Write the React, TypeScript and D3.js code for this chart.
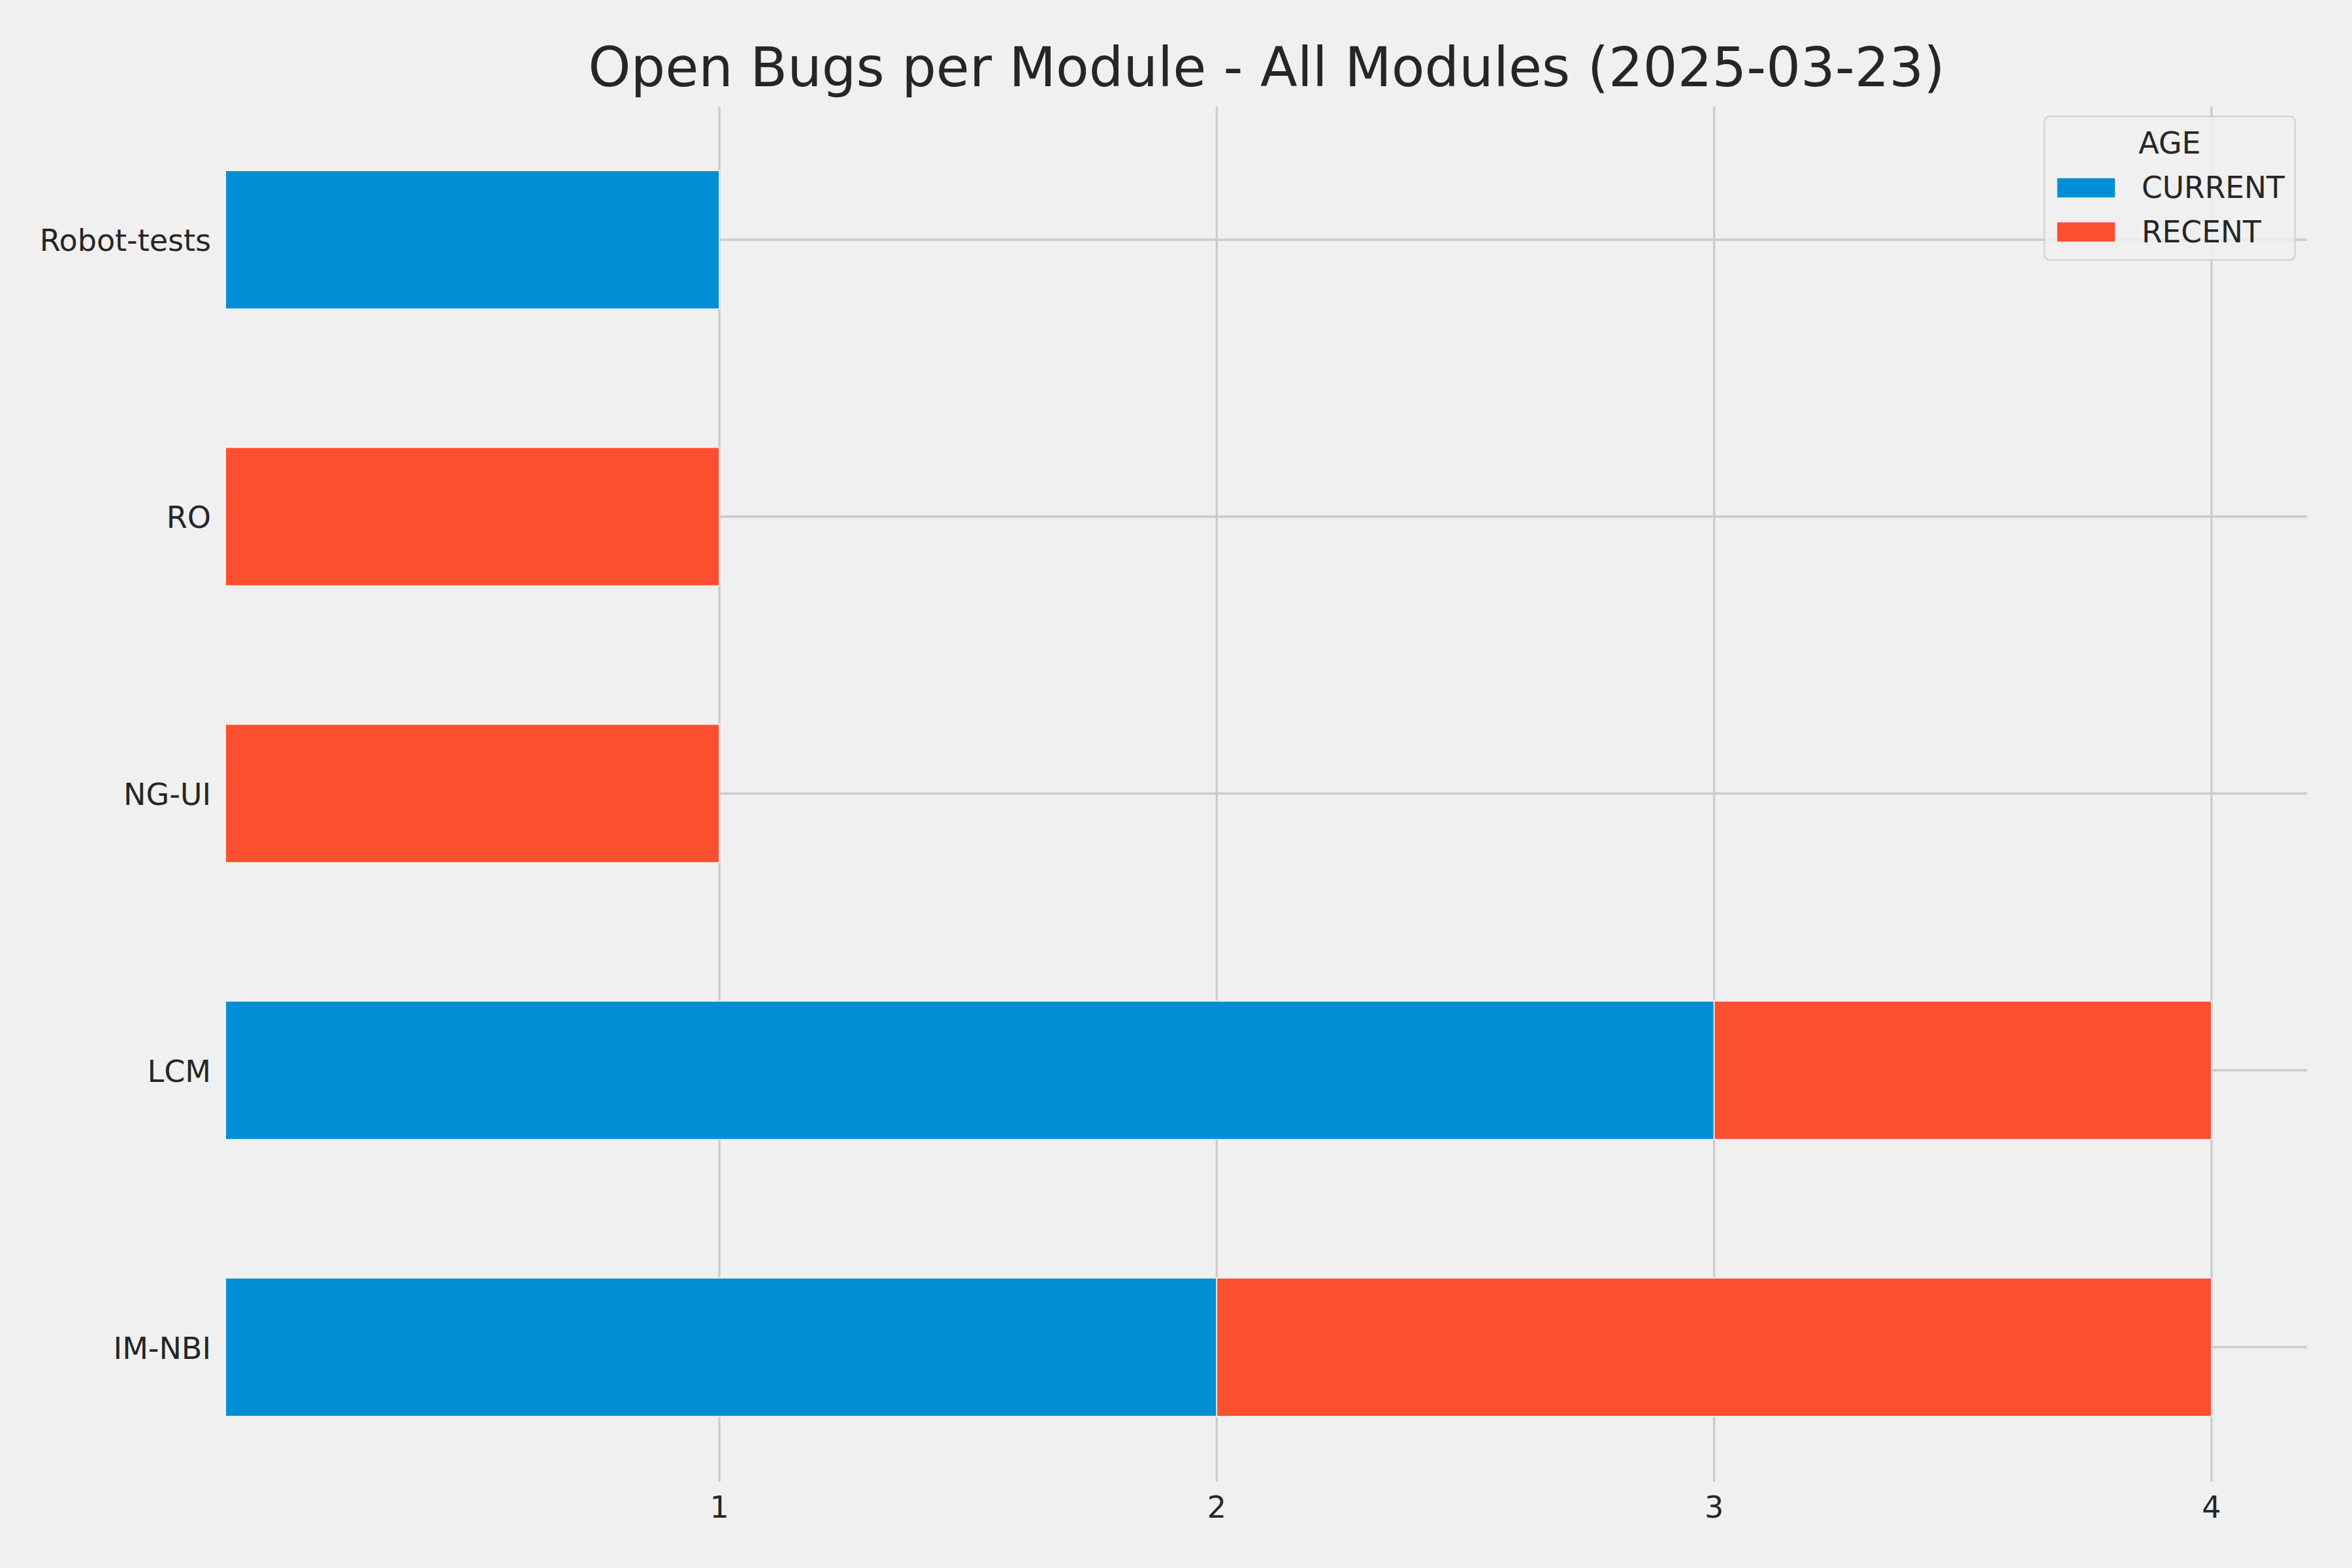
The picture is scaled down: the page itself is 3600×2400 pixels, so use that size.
import React from "react";
import * as d3 from "d3";

const categories = ["Robot-tests", "RO", "NG-UI", "LCM", "IM-NBI"];
const seriesNames = ["CURRENT", "RECENT"];
const currentValues = [1, 0, 0, 3, 2];
const recentValues = [0, 1, 1, 1, 2];
const xTicks = [1, 2, 3, 4];
const titleText = "Open Bugs per Module - All Modules (2025-03-23)";
const legendTitle = "AGE";

const W = 3600;
const H = 2400;
const colors = ["#008fd5", "#fc4f30"];
const FONT = "DejaVu Sans, Liberation Sans, sans-serif";
const TEXT = "#262626";
const GRID = "#cbcbcb";

const axLeft = 346;
const axRight = 3531;
const axTop = 163;
const axBottom = 2268;

export default function App() {
  const x = d3.scaleLinear().domain([0, 4]).range([339.7, 3385]);
  const y = d3
    .scaleBand<string>()
    .domain(categories)
    .range([155.1, 2273.9])
    .paddingInner(0.5)
    .paddingOuter(0.25);

  const rows = categories.map((c, i) => ({
    cat: c,
    CURRENT: currentValues[i],
    RECENT: recentValues[i],
  }));
  const stacked = d3.stack<any>().keys(seriesNames)(rows);

  const bw = y.bandwidth();

  return (
    <svg
      width={W}
      height={H}
      style={{ position: "absolute", left: 0, top: 0, display: "block" }}
      fontFamily={FONT}
    >
      <defs>
        <clipPath id="axclip">
          <rect x={axLeft} y={axTop} width={axRight - axLeft} height={axBottom - axTop} />
        </clipPath>
      </defs>
      <rect x={0} y={0} width={W} height={H} fill="#f0f0f0" />

      {/* grid */}
      <g>
        {xTicks.map((t) => (
          <line
            key={"gx" + t}
            x1={x(t)}
            x2={x(t)}
            y1={axTop}
            y2={axBottom}
            stroke={GRID}
            strokeWidth={3.33}
          />
        ))}
        {categories.map((c) => (
          <line
            key={"gy" + c}
            x1={axLeft}
            x2={axRight}
            y1={(y(c) as number) + bw / 2}
            y2={(y(c) as number) + bw / 2}
            stroke={GRID}
            strokeWidth={3.33}
          />
        ))}
      </g>

      {/* bars */}
      <g clipPath="url(#axclip)">
        {stacked.map((s, si) =>
          s.map((d, i) => {
            const w = x(d[1]) - x(d[0]);
            if (w <= 0) return null;
            return (
              <rect
                key={si + "-" + i}
                x={x(d[0])}
                y={y(categories[i]) as number}
                width={w}
                height={bw}
                fill={colors[si]}
                stroke="#f0f0f0"
                strokeWidth={1.67}
              />
            );
          })
        )}
      </g>

      {/* y tick labels */}
      {categories.map((c) => (
        <text
          key={"yl" + c}
          x={323}
          y={(y(c) as number) + bw / 2 + 17.5}
          textAnchor="end"
          fontSize={46}
          fill={TEXT}
        >
          {c}
        </text>
      ))}

      {/* x tick labels */}
      {xTicks.map((t) => (
        <text
          key={"xl" + t}
          x={x(t)}
          y={2323}
          textAnchor="middle"
          fontSize={46}
          fill={TEXT}
        >
          {t}
        </text>
      ))}

      {/* title */}
      <text
        x={(axLeft + axRight) / 2}
        y={132}
        textAnchor="middle"
        fontSize={83}
        fill={TEXT}
      >
        {titleText}
      </text>

      {/* legend */}
      <g>
        <rect
          x={3129}
          y={178}
          width={3513 - 3129}
          height={398 - 178}
          rx={9}
          ry={9}
          fill="#f0f0f0"
          fillOpacity={0.8}
          stroke="#cccccc"
          strokeOpacity={0.8}
          strokeWidth={2.5}
        />
        <text x={3321} y={235} textAnchor="middle" fontSize={46} fill={TEXT}>
          {legendTitle}
        </text>
        {seriesNames.map((s, i) => (
          <g key={"lg" + s}>
            <rect
              x={3148}
              y={272 + i * 67.5}
              width={90}
              height={31}
              fill={colors[i]}
              stroke="#f0f0f0"
              strokeWidth={1.67}
            />
            <text x={3278} y={303 + i * 67.5} fontSize={45.5} fill={TEXT}>
              {s}
            </text>
          </g>
        ))}
      </g>
    </svg>
  );
}
